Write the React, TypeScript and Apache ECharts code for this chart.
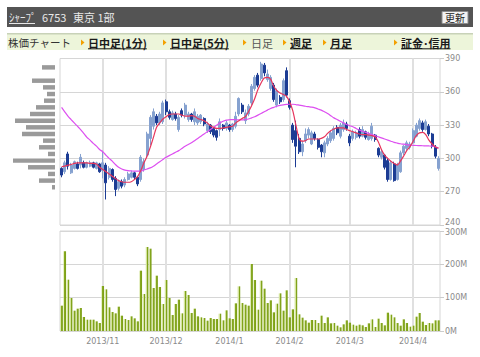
import React, { useEffect, useRef } from 'react';
import * as echarts from 'echarts';

// Trading days shown (month key, days of month)
const tradingDays: Array<[string, number[]]> = [
  ['2013/10', [15, 16, 17, 18, 21, 22, 23, 24, 25, 28, 29, 30, 31]],
  ['2013/11', [1, 5, 6, 7, 8, 11, 12, 13, 14, 15, 18, 19, 20, 21, 22, 25, 26, 27, 28, 29]],
  ['2013/12', [2, 3, 4, 5, 6, 9, 10, 11, 12, 13, 16, 17, 18, 19, 20, 24, 25, 26, 27, 30]],
  ['2014/1', [6, 7, 8, 9, 10, 14, 15, 16, 17, 20, 21, 22, 23, 24, 27, 28, 29, 30, 31]],
  ['2014/2', [3, 4, 5, 6, 7, 10, 12, 13, 14, 17, 18, 19, 20, 21, 24, 25, 26, 27, 28]],
  ['2014/3', [3, 4, 5, 6, 7, 10, 11, 12, 13, 14, 17, 18, 19, 20, 24, 25, 26, 27, 28, 31]],
  ['2014/4', [1, 2, 3, 4, 7, 8, 9, 10, 11]],
];
const monthLabels = ['2013/11', '2013/12', '2014/1', '2014/2', '2014/3', '2014/4'];

// [open, close, low, high]
const ohlc: number[][] = [
  [291, 285, 283, 292], [288, 296, 286, 298], [304, 293, 290, 306], [287, 294, 286, 296], [291, 297, 290, 298],
  [295, 291, 290, 297], [294, 301, 291, 304], [296, 292, 291, 298], [292, 296, 291, 297], [293, 296, 292, 298],
  [296, 292, 291, 297], [291, 296, 290, 297], [295, 288, 287, 296], [289, 296, 282, 307], [294, 278, 263, 296],
  [283, 291, 281, 293], [290, 281, 279, 291], [282, 272, 266, 284], [273, 279, 271, 281], [279, 275, 273, 281],
  [276, 281, 274, 283], [281, 286, 280, 288], [283, 287, 282, 289], [287, 283, 281, 288], [283, 277, 275, 284],
  [281, 301, 279, 303], [290, 297, 288, 300], [303, 322, 301, 324], [318, 337, 312, 339], [329, 342, 326, 345],
  [338, 332, 330, 340], [332, 340, 330, 342], [333, 350, 331, 352], [351, 342, 339, 353], [342, 337, 335, 344],
  [335, 341, 334, 343], [340, 336, 334, 342], [326, 337, 324, 339], [343, 339, 337, 345], [339, 348, 336, 350],
  [335, 340, 333, 342], [340, 335, 333, 341], [333, 342, 330, 345], [332, 338, 330, 340], [333, 339, 331, 340],
  [336, 331, 329, 337], [325, 331, 323, 333], [330, 324, 322, 331], [327, 321, 319, 328], [325, 319, 316, 326],
  [326, 333, 320, 336], [330, 327, 325, 331], [327, 332, 325, 334], [330, 326, 324, 331], [326, 331, 324, 332],
  [329, 338, 327, 342], [340, 354, 338, 355], [348, 342, 340, 350], [334, 341, 331, 344], [340, 347, 338, 349],
  [350, 365, 348, 367], [363, 373, 361, 375], [375, 366, 364, 377], [372, 385, 370, 387], [384, 377, 374, 386],
  [371, 376, 369, 380], [363, 373, 361, 375], [366, 353, 351, 368], [348, 361, 346, 363], [355, 351, 349, 357],
  [353, 370, 351, 372], [379, 357, 355, 382], [352, 346, 344, 354], [330, 317, 314, 332], [325, 311, 292, 334],
  [318, 306, 304, 322], [306, 313, 302, 316], [316, 322, 314, 327], [321, 326, 318, 328], [313, 323, 312, 325],
  [322, 318, 316, 324], [317, 310, 308, 318], [312, 306, 301, 313], [305, 314, 301, 316], [313, 318, 311, 320],
  [316, 323, 314, 325], [318, 327, 316, 329], [328, 323, 321, 330], [320, 330, 318, 332], [326, 332, 324, 335],
  [331, 327, 325, 333], [320, 314, 311, 322], [318, 324, 316, 326], [319, 323, 317, 325], [326, 320, 318, 328],
  [320, 326, 319, 329], [324, 319, 317, 325], [317, 322, 316, 324], [318, 329, 316, 332], [321, 317, 315, 322],
  [309, 303, 301, 310], [301, 306, 299, 308], [303, 292, 290, 304], [298, 281, 279, 300], [281, 296, 280, 298],
  [295, 280, 279, 297], [281, 294, 280, 296], [288, 305, 287, 307], [305, 311, 303, 312], [309, 314, 307, 316],
  [310, 313, 308, 315], [314, 325, 313, 327], [320, 330, 319, 332], [327, 334, 325, 336], [332, 326, 324, 334],
  [326, 333, 325, 335], [329, 322, 320, 331], [322, 311, 309, 323], [310, 302, 300, 312], [291, 300, 289, 302],
];

// Volume in millions of shares
const volumeM = [
  76, 239, 154, 99, 61, 67, 69, 42, 34, 34, 34, 29, 24, 135, 125, 71, 57, 53, 73, 46,
  36, 33, 44, 38, 29, 181, 111, 252, 247, 129, 166, 132, 81, 153, 99, 48, 81, 94, 53, 120,
  108, 54, 67, 44, 41, 39, 31, 39, 36, 36, 52, 32, 62, 38, 36, 83, 134, 84, 79, 76,
  201, 153, 64, 151, 127, 84, 92, 56, 82, 113, 61, 122, 41, 65, 159, 50, 40, 32, 25, 33,
  33, 24, 46, 24, 41, 23, 24, 16, 11, 20, 32, 25, 19, 16, 19, 17, 12, 23, 35, 12,
  37, 24, 17, 55, 49, 41, 24, 16, 35, 24, 13, 16, 43, 54, 28, 18, 24, 23, 32, 32,
];

// Short moving average (red)
const maShort = [
  292.5, 293, 294, 294.5, 295.5, 296, 296, 296, 296, 295.5,
  295.5, 295, 292, 290, 288, 286, 284, 282, 280, 279,
  278.5, 278.5, 279, 281, 283.5, 289, 296, 302, 310, 319,
  328, 332, 335.5, 337.5, 339.5, 340, 340, 340, 339, 338,
  338, 338.5, 338, 336, 335, 334, 332, 329.5, 328, 327,
  327, 327.5, 328, 328.5, 329, 332, 334, 336, 337.5, 342,
  347.5, 354, 362, 368, 372.5, 373, 371.5, 365, 361, 359,
  357.5, 356, 351, 343, 330, 318, 315.5, 316, 317.5, 317.5,
  317.5, 317.5, 318, 319.5, 322.5, 325, 326.5, 327.5, 327.5, 327.5,
  326, 325, 324, 323, 322, 321.5, 321.5, 321, 320.5, 319.5,
  315, 308, 303, 300, 297.5, 295.5, 294, 297.5, 302, 307,
  310.5, 315.5, 320.5, 323, 323.5, 321.5, 316.5, 313, 310.5, 309,
];

// Long moving average (magenta)
const maLong = [
  346, 342, 338, 335, 332, 329, 326, 322.5, 319, 316.5,
  313.5, 311, 308, 306, 303, 300, 297.5, 294.5, 292, 290.5,
  289.5, 289, 288.7, 288.5, 288.5, 288.5, 289.5, 290.5, 291.5, 293,
  295, 297, 299, 301, 302.5, 304, 305.5, 307, 309, 311,
  312.5, 314, 316, 318, 320, 322, 324, 326, 328, 330,
  332, 333.5, 334.5, 334.8, 335, 334.8, 334.7, 334.7, 335, 335.5,
  336.5, 337.5, 339, 340.5, 342, 343.5, 345, 346, 347, 347.8,
  348.3, 348.6, 348.8, 348.8, 348.5, 348, 347.5, 347, 346.6, 346.2,
  345.5, 344.5, 343.5, 342, 340.5, 338.5, 336.5, 335, 333.5, 332,
  330.5, 329.5, 328.5, 327, 325.5, 324.5, 323.5, 322.5, 321.5, 320.5,
  319.5, 318.5, 317.5, 316.5, 315.5, 314.5, 313.8, 313.2, 312.8, 312.4,
  312, 311.8, 311.6, 311.5, 311.4, 311.3, 311.2, 311, 310.5, 309.5,
];

// Price-by-volume profile (left)
const profilePrices = [382, 370, 364, 358, 352, 346, 340, 334, 328, 322, 316, 310, 304, 298, 292, 286, 280, 274];
const profileVolumes = [13, 23, 12, 8, 11, 19, 25, 40, 29, 33, 12, 16, 7, 42, 27, 7, 16, 3];

const priceMin = 240;
const priceMax = 390;
const priceStep = 30;
const volMax = 300;
const volStep = 100;

const tabs = [
  { text: '日中足(1分)', x: 88, link: true },
  { text: '日中足(5分)', x: 170, link: true },
  { text: '日足', x: 251, link: false },
  { text: '週足', x: 290, link: true },
  { text: '月足', x: 330, link: true },
  { text: '証金･信用', x: 401, link: true },
];
const tabArrowX = [81, 163, 243, 283, 323, 394];

export default function App() {
  const ref = useRef<HTMLDivElement>(null);

  useEffect(() => {
    if (!ref.current) return;
    const chart = echarts.init(ref.current, null, { renderer: 'svg' });

    const dates = tradingDays.flatMap(([m, days]) => days.map((d) => `${m}/${d}`));
    const monthStartIdx = tradingDays.slice(1).map(([m]) => dates.findIndex((s) => s.startsWith(m + '/')));
    const labelMap: Record<number, string> = {};
    monthStartIdx.forEach((idx, k) => { labelMap[idx] = monthLabels[k]; });

    const cjk = '"Noto Sans CJK JP", sans-serif';
    const gridColor = '#d6d6d6';
    const vLineColor = '#e0e0e0';
    const labelColor = '#8a8a8a';

    const graphicEls: any[] = [
      { type: 'rect', shape: { x: 7, y: 7, width: 466, height: 20 }, style: { fill: '#545454' } },
      { type: 'text', x: 9, y: 17, style: { text: 'ｼｬｰﾌﾟ', font: `11px ${cjk}`, fill: '#e8e8e8', verticalAlign: 'middle' } },
      { type: 'line', shape: { x1: 9, y1: 23.5, x2: 35, y2: 23.5 }, style: { stroke: '#e8e8e8', lineWidth: 1 } },
      { type: 'text', x: 42, y: 17, style: { text: '6753', font: `11px ${cjk}`, fill: '#e8e8e8', verticalAlign: 'middle' } },
      { type: 'text', x: 73, y: 17, style: { text: '東京 1部', font: `11px ${cjk}`, fill: '#e8e8e8', verticalAlign: 'middle' } },
      { type: 'rect', shape: { x: 442, y: 11.5, width: 26, height: 12 }, style: { fill: '#f3f3f3', stroke: '#8c8c8c', lineWidth: 1 } },
      { type: 'text', x: 455, y: 17.7, style: { text: '更新', font: `10px ${cjk}`, fill: '#222', align: 'center', verticalAlign: 'middle' } },
      { type: 'rect', shape: { x: 7, y: 33, width: 466, height: 17 }, style: { fill: '#edf5da' } },
      { type: 'line', shape: { x1: 7, y1: 33.8, x2: 473, y2: 33.8 }, style: { stroke: '#c8d2b8', lineWidth: 1.5 } },
      { type: 'text', x: 8, y: 42.5, style: { text: '株価チャート', font: `10.5px ${cjk}`, fill: '#333', verticalAlign: 'middle' } },
    ];
    tabArrowX.forEach((ax) => {
      graphicEls.push({ type: 'polygon', shape: { points: [[ax, 39.5], [ax + 3.5, 42.5], [ax, 45.5]] }, style: { fill: '#f3a000' } });
    });
    tabs.forEach((t) => {
      const font = t.link ? `bold 11px ${cjk}` : `11px ${cjk}`;
      graphicEls.push({ type: 'text', x: t.x, y: 42.5, style: { text: t.text, font, fill: t.link ? '#1a1a1a' : '#555', verticalAlign: 'middle' } });
      if (t.link) {
        const w = (echarts.format as any).getTextRect ? (echarts.format as any).getTextRect(t.text, font)?.width : undefined;
        const width = w || t.text.length * 10;
        graphicEls.push({ type: 'line', shape: { x1: t.x, y1: 48.8, x2: t.x + width, y2: 48.8 }, style: { stroke: '#1a1a1a', lineWidth: 1 } });
      }
    });

    const volGradient = new echarts.graphic.LinearGradient(0, 0, 1, 0, [
      { offset: 0, color: '#d3e39a' },
      { offset: 0.36, color: '#d3e39a' },
      { offset: 0.4, color: '#86a91f' },
      { offset: 1, color: '#7a9c16' },
    ]);

    const monthMarkData = monthStartIdx.map((i) => ({ xAxis: dates[i] }));

    const option: any = {
      animation: false,
      backgroundColor: '#ffffff',
      textStyle: { fontFamily: 'DejaVu Sans' },
      graphic: { elements: graphicEls },
      grid: [
        { left: 60, top: 58.5, width: 380, height: 166.5, show: true, borderColor: gridColor, borderWidth: 1, backgroundColor: 'transparent' },
        { left: 60, top: 231, width: 380, height: 100, show: true, borderColor: gridColor, borderWidth: 1, backgroundColor: 'transparent' },
        { left: 9, top: 58.5, width: 46, height: 166.5 },
      ],
      xAxis: [
        {
          type: 'category', gridIndex: 0, data: dates, boundaryGap: true,
          axisLine: { show: false }, axisTick: { show: false }, axisLabel: { show: false }, splitLine: { show: false },
        },
        {
          type: 'category', gridIndex: 1, data: dates, boundaryGap: true,
          axisLine: { show: false }, axisTick: { show: false }, splitLine: { show: false },
          axisLabel: {
            show: true,
            interval: (index: number) => labelMap[index] !== undefined,
            formatter: (_v: string, index: number) => labelMap[index] ?? '',
            color: labelColor, fontSize: 8, fontFamily: 'DejaVu Sans', margin: 6,
          },
        },
        { type: 'value', gridIndex: 2, inverse: true, min: 0, max: 46, show: false },
      ],
      yAxis: [
        {
          type: 'value', gridIndex: 0, position: 'right', min: priceMin, max: priceMax, interval: priceStep,
          axisLine: { show: false },
          axisTick: { show: true, length: 4, lineStyle: { color: '#cccccc' } },
          axisLabel: {
            color: labelColor, fontSize: 8, fontFamily: 'DejaVu Sans', margin: 5,
            formatter: (v: number) => (v === priceMin ? `{low|${v}}` : `${v}`),
            rich: { low: { color: labelColor, fontSize: 8, fontFamily: 'DejaVu Sans', padding: [0, 0, 5, 0] } },
          },
          splitLine: { show: true, lineStyle: { color: gridColor, width: 1 } },
        },
        {
          type: 'value', gridIndex: 1, position: 'right', min: 0, max: volMax, interval: volStep,
          axisLine: { show: false },
          axisTick: { show: true, length: 4, lineStyle: { color: '#cccccc' } },
          axisLabel: {
            color: labelColor, fontSize: 8, fontFamily: 'DejaVu Sans', margin: 5,
            formatter: (v: number) => (v === volMax ? `{top|${v}M}` : `${v}M`),
            rich: { top: { color: labelColor, fontSize: 8, fontFamily: 'DejaVu Sans', padding: [3, 0, 0, 0] } },
          },
          splitLine: { show: true, lineStyle: { color: gridColor, width: 1 } },
        },
        { type: 'value', gridIndex: 2, min: priceMin, max: priceMax, show: false },
      ],
      series: [
        {
          type: 'line', xAxisIndex: 0, yAxisIndex: 0, data: [], silent: true, z: 1,
          markLine: {
            silent: true, z: 1, symbol: ['none', 'none'], label: { show: false },
            lineStyle: { color: vLineColor, width: 2, type: 'solid' },
            emphasis: { disabled: true },
            data: monthMarkData,
          },
        },
        {
          type: 'line', xAxisIndex: 1, yAxisIndex: 1, data: [], silent: true, z: 1,
          markLine: {
            silent: true, z: 1, symbol: ['none', 'none'], label: { show: false },
            lineStyle: { color: vLineColor, width: 2, type: 'solid' },
            emphasis: { disabled: true },
            data: monthMarkData,
          },
        },
        {
          type: 'candlestick', xAxisIndex: 0, yAxisIndex: 0, data: ohlc, barWidth: 2.4, z: 3,
          itemStyle: { color: '#86a2d0', color0: '#1c3c94', borderColor: '#86a2d0', borderColor0: '#1c3c94', borderWidth: 1 },
        },
        {
          type: 'line', xAxisIndex: 0, yAxisIndex: 0, data: maLong, showSymbol: false, smooth: 0.3, z: 4,
          lineStyle: { color: '#dd4ff0', width: 1.2 },
        },
        {
          type: 'line', xAxisIndex: 0, yAxisIndex: 0, data: maShort, showSymbol: false, smooth: 0.3, z: 5,
          lineStyle: { color: '#e6355c', width: 1.2 },
        },
        {
          type: 'bar', xAxisIndex: 1, yAxisIndex: 1, data: volumeM, barWidth: 2.6, z: 3,
          itemStyle: { color: volGradient },
        },
        {
          type: 'custom', xAxisIndex: 2, yAxisIndex: 2,
          data: profileVolumes.map((v, k) => [v, profilePrices[k]]),
          encode: { x: 0, y: 1 },
          renderItem: (_params: any, api: any) => {
            const v = api.value(0) as number;
            const p = api.value(1) as number;
            const a = api.coord([v, p + 2]);
            const b = api.coord([0, p - 2]);
            return {
              type: 'rect',
              shape: { x: Math.min(a[0], b[0]), y: a[1], width: Math.abs(b[0] - a[0]), height: b[1] - a[1] },
              style: { fill: '#9a9a9a' },
            };
          },
        },
      ],
    };

    chart.setOption(option);
    return () => chart.dispose();
  }, []);

  return (
    <div style={{ position: 'absolute', left: 0, top: 0, width: 480, height: 357, background: '#fff' }}>
      <div ref={ref} style={{ width: 480, height: 357 }} />
    </div>
  );
}
